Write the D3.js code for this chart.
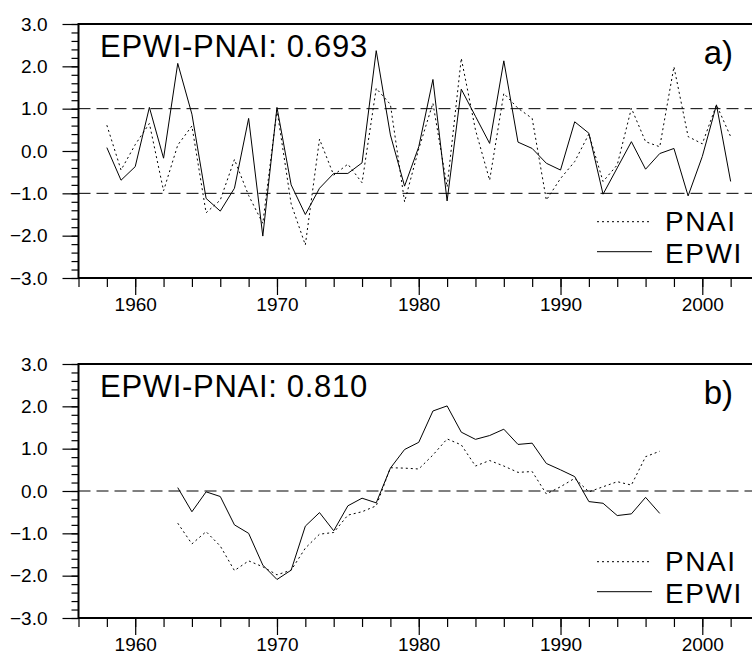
<!DOCTYPE html>
<html>
<head>
<meta charset="utf-8">
<script src="https://cdn.jsdelivr.net/npm/d3@7"></script>
<style>
  body { margin: 0; background: #fff; }
</style>
</head>
<body>
<script>
// ---- data ----
var yearsA = d3.range(1958, 2003)   // panel a, annual values
var pnaiA = [0.61, -0.45, 0.15, 0.65, -0.94, 0.14, 0.59, -1.46, -1.16, -0.20,
             -1.05, -1.71, 0.97, -1.25, -2.22, 0.28, -0.57, -0.31, -0.75, 1.48,
             1.10, -1.20, 0.05, 1.13, -0.85, 2.19, 0.50, -0.69, 1.36, 1.01,
             0.77, -1.16, -0.65, -0.25, 0.40, -0.72, -0.33, 1.01, 0.22, 0.10,
             1.99, 0.34, 0.17, 1.09, 0.34]
var epwiA = [0.08, -0.69, -0.37, 1.03, -0.17, 2.07, 0.87, -1.12, -1.42, -0.88,
             0.77, -2.01, 1.03, -0.80, -1.50, -0.88, -0.53, -0.53, -0.28, 2.37,
             0.38, -0.83, 0.10, 1.69, -1.18, 1.46, 0.82, 0.18, 2.13, 0.21,
             0.06, -0.29, -0.45, 0.69, 0.42, -1.02, -0.40, 0.22, -0.43, -0.06,
             0.06, -1.06, -0.13, 1.09, -0.72]

var yearsB = d3.range(1963, 1998)   // panel b, smoothed values
var pnaiB = [-0.76, -1.25, -0.96, -1.30, -1.88, -1.65, -1.79, -1.98, -1.87, -1.35,
             -1.02, -0.98, -0.57, -0.49, -0.35, 0.55, 0.54, 0.52, 0.85, 1.23,
             1.09, 0.59, 0.72, 0.59, 0.44, 0.46, -0.07, 0.10, 0.30, -0.02,
             0.10, 0.22, 0.14, 0.81, 0.94]
var epwiB = [0.08, -0.49, -0.02, -0.13, -0.80, -1.00, -1.75, -2.09, -1.87, -0.83,
             -0.51, -0.94, -0.35, -0.17, -0.28, 0.54, 0.98, 1.15, 1.89, 2.01,
             1.39, 1.22, 1.31, 1.46, 1.10, 1.13, 0.65, 0.50, 0.34, -0.25,
             -0.29, -0.58, -0.54, -0.15, -0.53]

var yTicks = [-3, -2, -1, 0, 1, 2, 3]
var xTicks = [1960, 1970, 1980, 1990, 2000]
var seriesNames = ["PNAI", "EPWI"]

var panels = [
    {years: yearsA, pnai: pnaiA, epwi: epwiA, corr: "0.693", tag: "a)", refs: [1, -1]},
    {years: yearsB, pnai: pnaiB, epwi: epwiB, corr: "0.810", tag: "b)", refs: [0]}
]

// ---- layout ----
var W = 752, H = 668
var left = 78.5, right = 759
var panelH = 254
var tops = [24, 364]
var font = "'Liberation Sans', Arial, Helvetica, sans-serif"

var svg = d3.select("body").append("svg")
    .attr("width", W)
    .attr("height", H)
    .attr("font-family", font)

var x = d3.scaleLinear().domain([1956, 2004]).range([left, right])
var y = d3.scaleLinear().domain([-3, 3]).range([panelH, 0])

var line = d3.line()
    .x(d => x(d[0]))
    .y(d => y(d[1]))

panels.forEach((p, i) => {
    var g = svg.append("g").attr("transform", `translate(0,${tops[i]})`)

    // reference dashed lines
    g.selectAll("line.ref")
        .data(p.refs)
        .join("line")
            .attr("class", "ref")
            .attr("x1", left).attr("x2", right)
            .attr("y1", d => y(d)).attr("y2", d => y(d))
            .attr("stroke", "#000")
            .attr("stroke-width", 1)
            .attr("stroke-dasharray", "12,6")

    // series
    g.append("path")
        .datum(p.years.map((yr, k) => [yr, p.pnai[k]]))
        .attr("d", line)
        .attr("fill", "none")
        .attr("stroke", "#000")
        .attr("stroke-width", 1)
        .attr("stroke-dasharray", "2,3")
    g.append("path")
        .datum(p.years.map((yr, k) => [yr, p.epwi[k]]))
        .attr("d", line)
        .attr("fill", "none")
        .attr("stroke", "#000")
        .attr("stroke-width", 1)

    // axes: major + minor ticks
    g.append("g")
        .attr("transform", `translate(0,${panelH})`)
        .call(d3.axisBottom(x).tickValues(d3.range(1956, 2005, 2)).tickSize(9).tickFormat(""))
        .call(a => a.select(".domain").remove())
    g.append("g")
        .attr("transform", `translate(0,${panelH})`)
        .call(d3.axisBottom(x).tickValues(xTicks).tickSize(17).tickPadding(3).tickFormat(d3.format("d")))
        .call(a => a.select(".domain").remove())
    g.append("g")
        .attr("transform", `translate(${left},0)`)
        .call(d3.axisLeft(y).tickValues(d3.range(-3, 3.01, 0.2)).tickSize(7).tickFormat(""))
        .call(a => a.select(".domain").remove())
    g.append("g")
        .attr("transform", `translate(${left},0)`)
        .call(d3.axisLeft(y).tickValues(yTicks).tickSize(16).tickPadding(15).tickFormat(d3.format(".1f")))
        .call(a => a.select(".domain").remove())

    g.selectAll(".tick line").attr("stroke", "#000").attr("stroke-width", 1.2)
    g.selectAll(".tick text")
        .attr("font-family", font)
        .attr("font-size", 19)
        .attr("fill", "#000")

    // frame
    g.append("rect")
        .attr("x", left).attr("y", 0)
        .attr("width", right - left).attr("height", panelH)
        .attr("fill", "none")
        .attr("stroke", "#000")
        .attr("stroke-width", 2)

    // texts
    g.append("text")
        .attr("x", 100).attr("y", 33)
        .attr("font-size", 31)
        .attr("letter-spacing", 0.7)
        .text("EPWI-PNAI: " + p.corr)
    g.append("text")
        .attr("x", 733).attr("y", 40)
        .attr("text-anchor", "end")
        .attr("font-size", 33)
        .text(p.tag)

    // legend
    var leg = g.append("g")
    seriesNames.forEach((name, k) => {
        var ly = 197.7 + k * 30
        leg.append("line")
            .attr("x1", 597).attr("x2", 652)
            .attr("y1", ly).attr("y2", ly)
            .attr("stroke", "#000")
            .attr("stroke-width", 1)
            .attr("stroke-dasharray", name === "PNAI" ? "2,3" : null)
        leg.append("text")
            .attr("x", 665).attr("y", ly + 10 + (k ? 1 : -1))
            .attr("font-size", 28)
            .attr("letter-spacing", 1.6)
            .text(name)
    })
})
</script>
</body>
</html>
